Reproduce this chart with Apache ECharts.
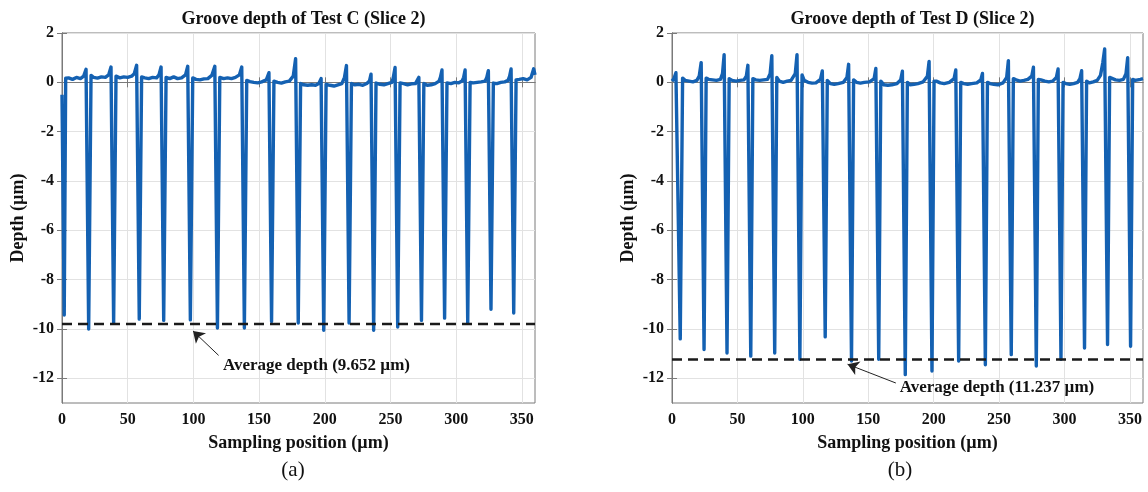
<!DOCTYPE html>
<html>
<head>
<meta charset="utf-8">
<script src="https://cdn.jsdelivr.net/npm/echarts@6/dist/echarts.min.js"></script>
<style>html,body{margin:0;padding:0;background:#fff}#c{width:1148px;height:492px}</style>
</head>
<body>
<div id="c"></div>
<script>
// ---------- data ----------
const titles = ['Groove depth of Test C (Slice 2)', 'Groove depth of Test D (Slice 2)'];
const panelTags = ['(a)', '(b)'];
const xTicks = [0, 50, 100, 150, 200, 250, 300, 350];
const yTicks = [-12, -10, -8, -6, -4, -2, 0, 2];

// Test C profile: [sampling position µm, depth µm]
const profileC = [
  [0,-0.5],[1.7,-9.43],[2.8,0.17],
  [5,0.18],[8,0.12],[11,0.2],[14,0.15],[16.5,0.25],[18.3,0.53],[20.3,-10.0],[22.1,0.28],
  [24,0.2],[27,0.17],[30,0.22],[33,0.2],[35.5,0.3],[37.3,0.62],[39.3,-9.76],[41.1,0.25],
  [44,0.18],[47,0.22],[50,0.2],[53,0.25],[55,0.35],[56.8,0.69],[58.8,-9.6],[60.6,0.22],
  [63,0.18],[66,0.15],[69,0.2],[72,0.18],[73.8,0.3],[75.4,0.62],[77.4,-9.65],[79.2,0.2],
  [82,0.15],[85,0.22],[88,0.15],[91,0.18],[94,0.3],[95.7,0.65],[97.7,-9.63],[99.5,0.18],
  [102,0.12],[105,0.1],[108,0.14],[111,0.15],[114,0.28],[116.3,0.65],[118.3,-9.96],[120.1,0.2],
  [123,0.15],[126,0.18],[129,0.15],[132,0.2],[135,0.3],[136.8,0.62],[138.8,-9.96],[140.6,0.08],
  [143,0.03],[146,0.0],[149,-0.02],[152,0.02],[155.5,0.1],[157.5,0.39],[159.5,-9.7],[161.3,0.05],
  [164,0.0],[167,-0.03],[170,0.02],[173,0.05],[176,0.25],[177.8,0.96],[179.8,-9.76],[181.6,-0.05],
  [184,-0.1],[187,-0.12],[190,-0.1],[193,-0.12],[195.5,-0.05],[197.2,0.15],[199.2,-10.05],[201,-0.08],
  [204,-0.12],[207,-0.15],[210,-0.1],[213,-0.05],[215,0.2],[216.5,0.68],[218.5,-9.76],[220.3,-0.05],
  [223,-0.1],[226,-0.08],[229,-0.12],[232,-0.05],[234,0.05],[235.2,0.33],[237.2,-10.05],[239,-0.03],
  [242,-0.08],[245,-0.1],[248,-0.05],[251,0.0],[252,0.15],[253.5,0.6],[255.5,-9.92],[257.3,-0.02],
  [260,-0.05],[263,-0.1],[266,-0.06],[269,-0.05],[270.5,0.0],[271.6,0.2],[273.6,-9.65],[275.4,-0.05],
  [278,-0.12],[281,-0.1],[284,-0.05],[287,0.05],[288,0.2],[289.2,0.5],[291.2,-9.56],[293,-0.02],
  [296,-0.05],[299,0.0],[302,-0.02],[304.5,0.05],[305.7,0.2],[306.8,0.5],[308.8,-9.76],[310.6,0.0],
  [313,-0.02],[316,0.0],[319,0.02],[322,0.05],[323.3,0.2],[324.5,0.47],[326.5,-9.2],[328.3,-0.03],
  [331,-0.05],[334,0.0],[337,0.02],[339.5,0.08],[340.7,0.25],[341.8,0.54],[343.8,-9.35],[345.6,0.1],
  [348,0.12],[351,0.15],[354,0.1],[357,0.2],[359,0.55],[360,0.3]
];

// Test D profile: [sampling position µm, depth µm]
const profileD = [
  [0,0.05],[1.5,0.15],[3.0,0.39],[4.3,0.31],[6.3,-10.4],[8.1,0.17],
  [10,0.08],[13,0.05],[16,0.02],[19,0.08],[20.8,0.25],[22.3,0.8],[24.5,-10.83],[26.1,0.17],
  [28,0.12],[31,0.1],[34,0.08],[37,0.12],[38.6,0.35],[39.85,1.12],[42.05,-10.97],[43.7,0.15],
  [46,0.08],[49,0.05],[52,0.08],[55,0.1],[56.8,0.25],[58,0.69],[60.2,-11.1],[61.8,0.15],
  [64,0.1],[67,0.08],[70,0.1],[73,0.12],[75,0.35],[76.3,1.08],[78.5,-10.97],[80.1,0.2],
  [82,0.05],[85,0.0],[88,0.05],[91,0.08],[94.2,0.35],[95.55,1.12],[97.75,-11.23],[99.4,0.3],
  [101,0.08],[104,0.0],[107,-0.03],[110,-0.02],[113.5,0.12],[114.9,0.46],[117.1,-10.32],[118.7,0.08],
  [121,-0.05],[124,-0.08],[127,-0.05],[131,0.0],[133.7,0.2],[135,0.73],[137.2,-11.3],[138.8,0.1],
  [141,0.0],[144,-0.03],[147,0.0],[151,0.02],[154.5,0.15],[155.8,0.56],[158,-11.23],[159.6,0.05],
  [162,-0.1],[165,-0.12],[168,-0.1],[172,-0.05],[174.8,0.1],[176.1,0.45],[178.3,-11.85],[179.9,0.0],
  [182,-0.1],[185,-0.08],[188,-0.05],[192,0.02],[195.2,0.25],[196.5,0.85],[198.7,-11.7],[200.3,0.05],
  [202,0.05],[205,-0.02],[208,-0.05],[212,0.0],[215.6,0.15],[216.9,0.5],[219.1,-11.3],[220.7,0.0],
  [223,-0.05],[226,-0.08],[229,-0.05],[233,-0.02],[236,0.1],[237.3,0.36],[239.5,-11.45],[241.1,0.0],
  [243,-0.05],[246,-0.08],[249,-0.1],[253,-0.02],[255.8,0.2],[257.1,0.88],[259.3,-11.04],[260.9,0.15],
  [263,0.1],[266,0.05],[269,0.08],[272,0.12],[275,0.25],[276.25,0.61],[278.45,-11.5],[280,0.12],
  [282,0.1],[285,0.05],[288,0.02],[291,0.05],[293.8,0.2],[295.1,0.54],[297.3,-11.23],[298.9,0.0],
  [301,-0.05],[304,-0.08],[307,-0.05],[310,0.0],[311.8,0.15],[313.1,0.47],[315.3,-10.77],[316.9,0.05],
  [319,-0.02],[322,0.02],[325,0.08],[327.5,0.28],[329.3,0.8],[330.7,1.35],[332.9,-10.63],[334.5,0.2],
  [336,0.12],[339,0.1],[342,0.08],[345,0.12],[347,0.35],[348.3,1.0],[350.5,-10.7],[352.1,0.12],
  [354,0.08],[356,0.1],[358,0.12],[360,0.15]
];

const avgLevel = [-9.8, -11.24];                    // drawn dashed level
const avgText = ['Average depth (9.652 µm)', 'Average depth (11.237 µm)'];
const notePos = [[122.5, -11.5], [174, -12.38]];    // text anchor (left edge)
const arrowTail = [[119.2, -11.07], [171.1, -12.19]];
const arrowHead = [[99.7, -10.08], [134.2, -11.43]];

// ---------- chart ----------
const FONT = 'Liberation Serif';
const BLUE = '#1461b2';
const AX = '#7a7a7a';
const GRIDC = '#e2e2e2';
const TXT = '#111111';
const grids = [
  {left: 62, top: 33, width: 473, height: 370},
  {left: 672, top: 33, width: 471, height: 370}
];
const centers = [298.5, 907.5];
const tagX = [288, 895];

const chart = echarts.init(document.getElementById('c'), null, {renderer: 'canvas'});

const xAxes = [], yAxes = [], series = [], titleArr = [];
[profileC, profileD].forEach((prof, i) => {
  xAxes.push({
    gridIndex: i, type: 'value', min: 0, max: 360, position: 'bottom',
    name: 'Sampling position (µm)', nameLocation: 'middle', nameGap: 31,
    nameTextStyle: {fontFamily: FONT, fontSize: 18, fontWeight: 'bold', color: TXT},
    axisLine: {show: true, lineStyle: {color: AX, width: 1}},
    axisTick: {show: true, inside: true, length: 5, customValues: xTicks, lineStyle: {color: AX}},
    axisLabel: {customValues: xTicks, margin: 9, fontFamily: FONT, fontSize: 16, fontWeight: 'bold', color: TXT},
    splitLine: {show: true, lineStyle: {color: GRIDC, width: 1}}
  });
  xAxes.push({
    gridIndex: i, type: 'value', min: 0, max: 360, position: 'top',
    axisLine: {show: true, lineStyle: {color: AX, width: 1}},
    axisTick: {show: true, inside: true, length: 5, customValues: xTicks, lineStyle: {color: AX}},
    axisLabel: {show: false}, splitLine: {show: false}
  });
  yAxes.push({
    gridIndex: i, type: 'value', min: -13, max: 2, position: 'left',
    name: 'Depth (µm)', nameLocation: 'middle', nameGap: 35,
    nameTextStyle: {fontFamily: FONT, fontSize: 18, fontWeight: 'bold', color: TXT},
    axisLine: {show: true, lineStyle: {color: AX, width: 1}},
    axisTick: {show: true, inside: true, length: 5, customValues: yTicks, lineStyle: {color: AX}},
    axisLabel: {customValues: yTicks, margin: 8, fontFamily: FONT, fontSize: 16, fontWeight: 'bold', color: TXT},
    splitLine: {show: true, lineStyle: {color: GRIDC, width: 1}}
  });
  yAxes.push({
    gridIndex: i, type: 'value', min: -13, max: 2, position: 'right',
    axisLine: {show: true, lineStyle: {color: AX, width: 1}},
    axisTick: {show: true, inside: true, length: 5, customValues: yTicks, lineStyle: {color: AX}},
    axisLabel: {show: false}, splitLine: {show: false}
  });
  const xi = i * 2, yi = i * 2;
  series.push({
    type: 'line', xAxisIndex: xi, yAxisIndex: yi, data: prof,
    symbol: 'none', showSymbol: false, z: 2,
    lineStyle: {color: BLUE, width: 3.4, join: 'round'}
  });
  series.push({
    type: 'line', xAxisIndex: xi, yAxisIndex: yi,
    data: [[0, avgLevel[i]], [360, avgLevel[i]]],
    symbol: 'none', showSymbol: false, z: 3, silent: true,
    lineStyle: {color: '#1a1a1a', width: 2.5, type: [10, 6]},
    markPoint: {
      silent: true, symbol: 'circle', symbolSize: 0,
      itemStyle: {color: 'rgba(0,0,0,0)'},
      label: {show: true, position: 'right', distance: 0, formatter: avgText[i],
        fontFamily: FONT, fontSize: 17, fontWeight: 'bold', color: TXT, opacity: 1},
      data: [{coord: notePos[i]}]
    },
    markLine: {
      silent: true, symbol: ['none', 'arrow'], symbolSize: 11,
      label: {show: false},
      itemStyle: {color: '#111'},
      lineStyle: {color: '#222', width: 1, type: 'solid', opacity: 1},
      data: [[{coord: arrowTail[i]}, {coord: arrowHead[i]}]]
    }
  });
  titleArr.push({
    text: titles[i], left: centers[i], top: 5, textAlign: 'center',
    textStyle: {fontFamily: FONT, fontSize: 18, fontWeight: 'bold', color: TXT}
  });
  titleArr.push({
    text: panelTags[i], left: tagX[i], top: 455, textAlign: 'center',
    textStyle: {fontFamily: FONT, fontSize: 21, fontWeight: 'normal', color: TXT}
  });
});

chart.setOption({
  animation: false,
  backgroundColor: '#ffffff',
  title: titleArr,
  grid: grids.map(g => Object.assign({show: true, borderColor: AX, borderWidth: 1, backgroundColor: '#fff', containLabel: false, outerBoundsMode: 'none'}, g)),
  xAxis: xAxes,
  yAxis: yAxes,
  series: series
});
</script>
</body>
</html>
